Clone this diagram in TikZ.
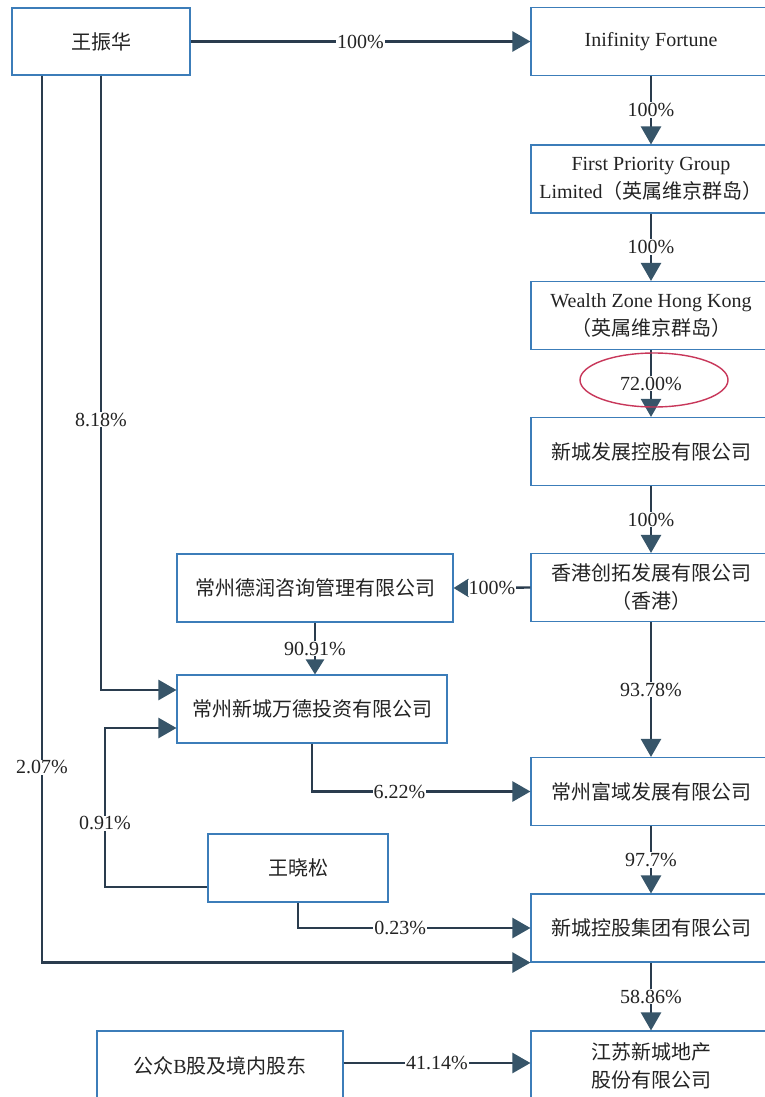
\documentclass[tikz,border=0pt]{standalone}
\usepackage{fontspec}
\setmainfont{Liberation Serif}
\newfontfamily\cjk{Noto Sans CJK SC}
\usetikzlibrary{arrows.meta,shapes.geometric}
\definecolor{boxblue}{RGB}{60,125,185}
\definecolor{conncol}{RGB}{42,60,78}
\definecolor{headcol}{RGB}{55,85,105}
\definecolor{txt}{RGB}{35,35,35}
\definecolor{hlred}{RGB}{200,55,90}
\tikzset{
  box/.style={draw=boxblue, line width=1.1pt, fill=white, inner sep=0pt, text=txt, align=center,
    font=\fontsize{20}{28}\selectfont},
  rbox/.style={box, minimum width=240pt, minimum height=68pt},
  conn/.style={draw=conncol, line width=2.4pt, -{Triangle[length=18pt,width=20pt,color=headcol]}},
  smallhead/.style={-{Triangle[length=15pt,width=18pt,color=headcol]}},
  lbl/.style={fill=white, inner sep=1pt, text=txt, font=\fontsize{20}{24}\selectfont},
}
\begin{document}
\begin{tikzpicture}[x=1pt,y=-1pt]
\fill[white] (0,0) rectangle (764,1097);
\useasboundingbox (0,0) rectangle (764,1097);
% boxes
\node[box, minimum width=178pt, minimum height=67pt] (wzh) at (101,41.5) {\cjk 王振华};
\node[rbox] (inf) at (651,41.5) {Inifinity Fortune};
\node[rbox] (fpg) at (651,179) {First Priority Group\\Limited{\cjk （英属维京群岛）}};
\node[rbox] (wz) at (651,315.5) {Wealth Zone Hong Kong\\{\cjk （英属维京群岛）}};
\node[rbox] (xcfz) at (651,451.5) {\cjk 新城发展控股有限公司};
\node[rbox] (hkct) at (651,587.5) {{\cjk 香港创拓发展有限公司}\\{\cjk （香港）}};
\node[box, minimum width=276pt, minimum height=68pt] (drz) at (315,588) {\cjk 常州德润咨询管理有限公司};
\node[box, minimum width=270pt, minimum height=68pt] (wd) at (312,709) {\cjk 常州新城万德投资有限公司};
\node[rbox] (fy) at (651,791.5) {\cjk 常州富域发展有限公司};
\node[box, minimum width=180pt, minimum height=68pt] (wxs) at (298,868) {\cjk 王晓松};
\node[rbox] (xckg) at (651,928) {\cjk 新城控股集团有限公司};
\node[box, minimum width=246pt, minimum height=69pt] (gz) at (220,1065.5) {{\cjk 公众}B{\cjk 股及境内股东}};
\node[rbox, minimum height=69pt] (js) at (651,1065.5) {{\cjk 江苏新城地产}\\{\cjk 股份有限公司}};
% connectors
\draw[conn] (wzh.east) -- (inf.west) node[lbl,midway]{100\%};
\draw[conn] (inf.south) -- (fpg.north) node[lbl,midway]{100\%};
\draw[conn] (fpg.south) -- (wz.north) node[lbl,midway]{100\%};
\draw[conn] (wz.south) -- (xcfz.north) node[lbl,midway] (p72) {72.00\%};
\node[draw=hlred, ellipse, line width=1.4pt, minimum width=148pt, minimum height=54pt] (hl) at (654,380) {};
\draw[conn] (xcfz.south) -- (hkct.north) node[lbl,midway]{100\%};
\draw[conn, smallhead] (hkct.west) -- (drz.east) node[lbl,midway]{100\%};
\draw[conn, smallhead] (drz.south) -- (drz.south |- wd.north) node[lbl,midway]{90.91\%};
\draw[conn] (hkct.south) -- (fy.north) node[lbl,midway]{93.78\%};
\draw[conn] (fy.south) -- (xckg.north) node[lbl,midway]{97.7\%};
\draw[conn] (xckg.south) -- (js.north) node[lbl,midway]{58.86\%};
\draw[conn] (wd.south) |- (fy.west) node[lbl,pos=0.7]{6.22\%};
\draw[conn] (wxs.south) |- (xckg.west) node[lbl,pos=0.72]{0.23\%};
\draw[conn] ([yshift=2.5pt]gz.east) -- ([yshift=2.5pt]gz.east -| js.west) node[lbl,midway]{41.14\%};
\draw[conn] (wzh.south) |- ([yshift=19pt]wd.west) node[lbl,pos=0.28]{8.18\%};
\draw[conn] ([xshift=-59pt]wzh.south) |- (xckg.south west) node[lbl,pos=0.39]{2.07\%};
\coordinate (k91) at (105,887);
\draw[conn] ([yshift=-19pt]wxs.west) -- (k91) |- ([yshift=-19pt]wd.west) node[lbl,pos=0.2]{0.91\%};
\end{tikzpicture}
\end{document}
